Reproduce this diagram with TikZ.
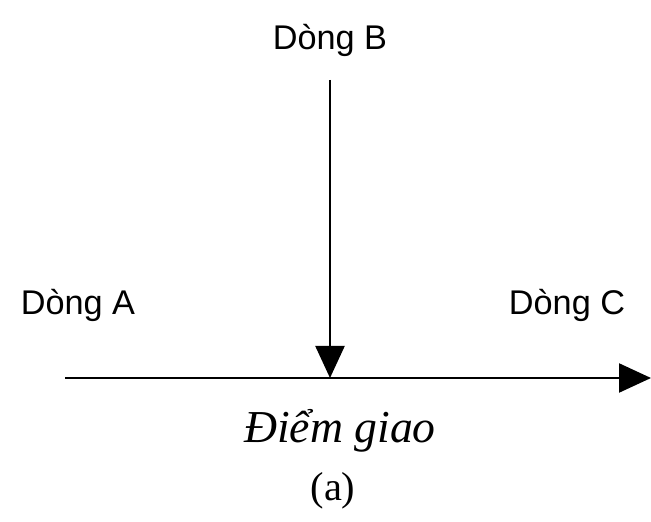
\documentclass[tikz,border=0pt]{standalone}
\usepackage{fontspec}
\setmainfont{Liberation Sans}
\newfontfamily\serifvn{Liberation Serif}
\usepackage{tikz}
\usetikzlibrary{arrows.meta,positioning,calc}
\tikzset{
  lbl/.style     = {inner sep=0pt, font=\fontsize{19.5}{23}\selectfont},
  lblpt/.style   = {inner sep=0pt, font=\serifvn\itshape\fontsize{26}{30}\selectfont},
  lblcap/.style  = {inner sep=0pt, font=\serifvn\fontsize{23}{27}\selectfont},
  flow/.style    = {line width=1.3pt, -{Triangle[length=6.4mm, width=5.8mm]}},
}
\begin{document}
\begin{tikzpicture}
  \useasboundingbox (0,0) rectangle (13.02,10.42);
  \node[lbl] (b) at (6.6,9.62) {Dòng B};
  \node[lbl] (a) at (1.56,4.32) {Dòng A};
  \node[lbl] (c) at (11.34,4.32) {Dòng C};
  \node[lblpt] (p) at (6.8,1.8) {Điểm giao};
  \node[lblcap] (cap) at (6.66,0.6) {(a)};
  \coordinate (bTop) at (6.6,8.82);
  \coordinate (meet) at (6.6,2.86);
  \coordinate (aStart) at (1.3,2.86);
  \coordinate (cEnd) at (13.02,2.86);
  \draw[flow] (bTop) -- (meet);
  \draw[flow] (aStart) -- (cEnd);
\end{tikzpicture}
\end{document}
